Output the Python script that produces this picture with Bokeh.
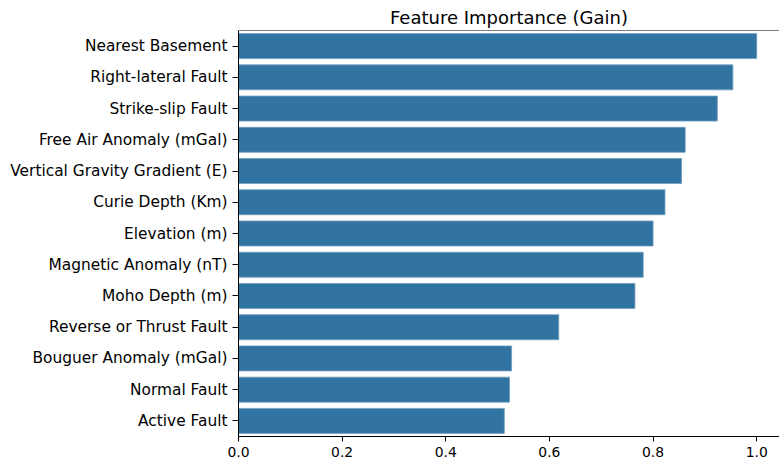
from bokeh.plotting import figure
from bokeh.models import FactorRange, Range1d, FixedTicker, PrintfTickFormatter, Span
from bokeh.embed import file_html
from bokeh.resources import INLINE

features = [
    "Nearest Basement",
    "Right-lateral Fault",
    "Strike-slip Fault",
    "Free Air Anomaly (mGal)",
    "Vertical Gravity Gradient (E)",
    "Curie Depth (Km)",
    "Elevation (m)",
    "Magnetic Anomaly (nT)",
    "Moho Depth (m)",
    "Reverse or Thrust Fault",
    "Bouguer Anomaly (mGal)",
    "Normal Fault",
    "Active Fault",
]
importance = [1.0, 0.954, 0.924, 0.862, 0.855, 0.823, 0.800, 0.781, 0.765, 0.618, 0.527, 0.523, 0.513]
x_ticks = [0.0, 0.2, 0.4, 0.6, 0.8, 1.0]
title_text = "Feature Importance (Gain)"

FONT = "DejaVu Sans"
BAR = "#3274a1"

y_factors = list(reversed(features))

p = figure(
    width=779, height=468,
    y_range=FactorRange(factors=y_factors, range_padding=0),
    x_range=Range1d(0, 1.044),
    output_backend="svg", toolbar_location=None,
    min_border_left=238, min_border_right=0, min_border_top=30, min_border_bottom=32,
    title=title_text,
)

p.title.text_font = FONT
p.title.text_font_size = "18px"
p.title.text_font_style = "normal"
p.title.text_color = "black"
p.title.align = "center"
p.title.standoff = 5

p.hbar(y=features, right=importance, height=0.8, left=0,
       fill_color=BAR, line_color="#6f9dc0", line_width=0.8)

p.outline_line_color = None
p.xgrid.grid_line_color = None
p.ygrid.grid_line_color = None

for ax in (p.xaxis[0], p.yaxis[0]):
    ax.axis_line_color = "black"
    ax.axis_line_width = 1
    ax.major_tick_line_color = "black"
    ax.major_tick_out = 5
    ax.major_tick_in = 0
    ax.minor_tick_line_color = None
    ax.major_label_standoff = 5
    ax.major_label_text_font = FONT
    ax.major_label_text_color = "black"

p.xaxis[0].major_label_text_font_size = "13.9px"
p.yaxis[0].major_label_text_font_size = "15.4px"
p.yaxis[0].major_tick_out = 6
p.yaxis[0].major_label_standoff = 5

p.xaxis[0].ticker = FixedTicker(ticks=x_ticks)
p.xaxis[0].formatter = PrintfTickFormatter(format="%.1f")

p.add_layout(Span(location=len(features), dimension="width",
                  line_color="black", line_width=1))

open("out.html", "w").write(file_html(p, INLINE))
